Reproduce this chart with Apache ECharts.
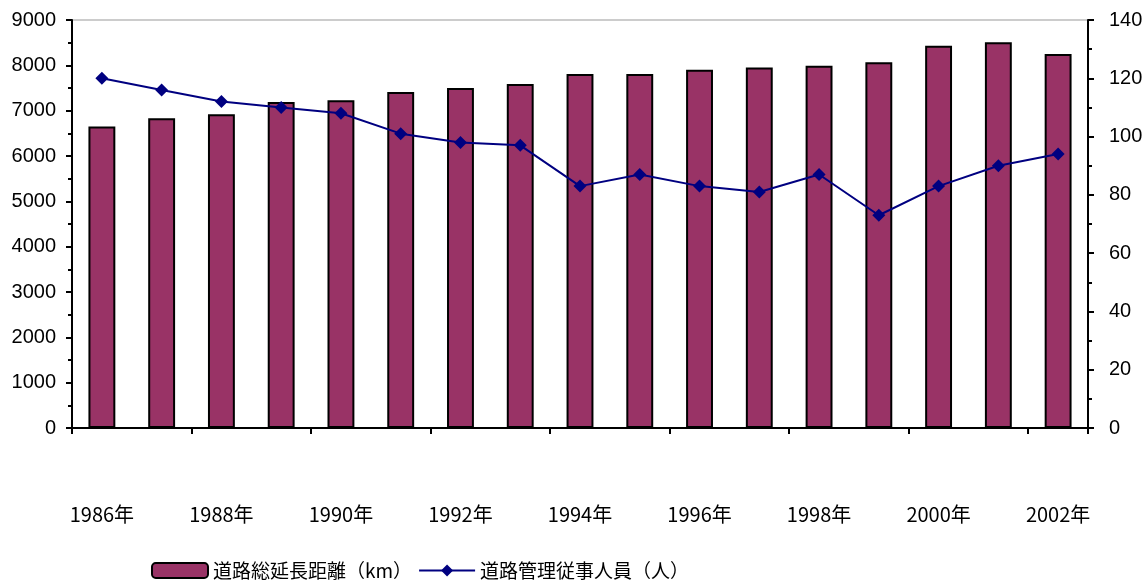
<!DOCTYPE html>
<html>
<head>
    <meta charset="utf-8">
    <title>道路総延長距離と道路管理従事人員</title>
    <script src="https://cdn.jsdelivr.net/npm/echarts@6/dist/echarts.min.js"></script>
    <style>
        html, body { margin: 0; padding: 0; background: #fff; }
        #main { width: 1147px; height: 581px; }
    </style>
</head>
<body>
    <div id="main"></div>
    <script>
        // データ
        var years = ['1986年', '1987年', '1988年', '1989年', '1990年', '1991年', '1992年', '1993年', '1994年',
            '1995年', '1996年', '1997年', '1998年', '1999年', '2000年', '2001年', '2002年'];
        var roadLength = [6650, 6830, 6920, 7190, 7230, 7410, 7500, 7590, 7810,
            7810, 7900, 7950, 7990, 8070, 8430, 8510, 8250];
        var staff = [120, 116, 112, 110, 108, 101, 98, 97, 83,
            87, 83, 81, 87, 73, 83, 90, 94];
        var seriesNames = ['道路総延長距離（km）', '道路管理従事人員（人）'];

        var myChart = echarts.init(document.getElementById('main'));
        // 数値ラベルは Arial 相当
        var numFont = { fontFamily: 'Arial', fontSize: 20, color: '#000' };
        var plain = function (v) { return String(v); };

        var option = {
            animation: false,
            grid: {
                left: 72, right: 59, top: 20, bottom: 153,
                show: true, borderColor: '#999', borderWidth: 1
            },
            legend: {
                data: seriesNames,
                left: 146, top: 556,
                itemWidth: 56, itemHeight: 15, itemGap: 6,
                textStyle: { fontFamily: 'Noto Sans CJK JP', fontSize: 19, color: '#000' }
            },
            xAxis: {
                type: 'category',
                data: years,
                axisLine: { lineStyle: { color: '#000', width: 2 } },
                axisTick: { show: true, length: 6, lineStyle: { color: '#000', width: 2 } },
                axisLabel: {
                    interval: 1, margin: 76,
                    fontFamily: 'Noto Sans CJK JP', fontSize: 20, color: '#000'
                }
            },
            yAxis: [{
                type: 'value', min: 0, max: 9000, interval: 1000,
                axisLine: { show: true, lineStyle: { color: '#000', width: 2 } },
                axisTick: { show: true, length: 6, lineStyle: { color: '#000', width: 2 } },
                minorTick: { show: true, splitNumber: 2, length: 4, lineStyle: { color: '#000', width: 2 } },
                splitLine: { show: false },
                axisLabel: Object.assign({ margin: 16, formatter: plain }, numFont)
            }, {
                type: 'value', min: 0, max: 140, interval: 20,
                axisLine: { show: true, lineStyle: { color: '#000', width: 2 } },
                axisTick: { show: true, length: 6, lineStyle: { color: '#000', width: 2 } },
                minorTick: { show: true, splitNumber: 2, length: 4, lineStyle: { color: '#000', width: 2 } },
                splitLine: { show: false },
                axisLabel: Object.assign({ margin: 21, formatter: plain }, numFont)
            }],
            series: [{
                name: seriesNames[0],
                type: 'bar',
                data: roadLength,
                barWidth: '45%',
                itemStyle: { color: '#993366', borderColor: '#000', borderWidth: 2 }
            }, {
                name: seriesNames[1],
                type: 'line',
                yAxisIndex: 1,
                data: staff,
                symbol: 'diamond',
                symbolSize: 13,
                lineStyle: { color: '#000080', width: 2 },
                itemStyle: { color: '#000080' }
            }]
        };
        myChart.setOption(option);
    </script>
</body>
</html>
